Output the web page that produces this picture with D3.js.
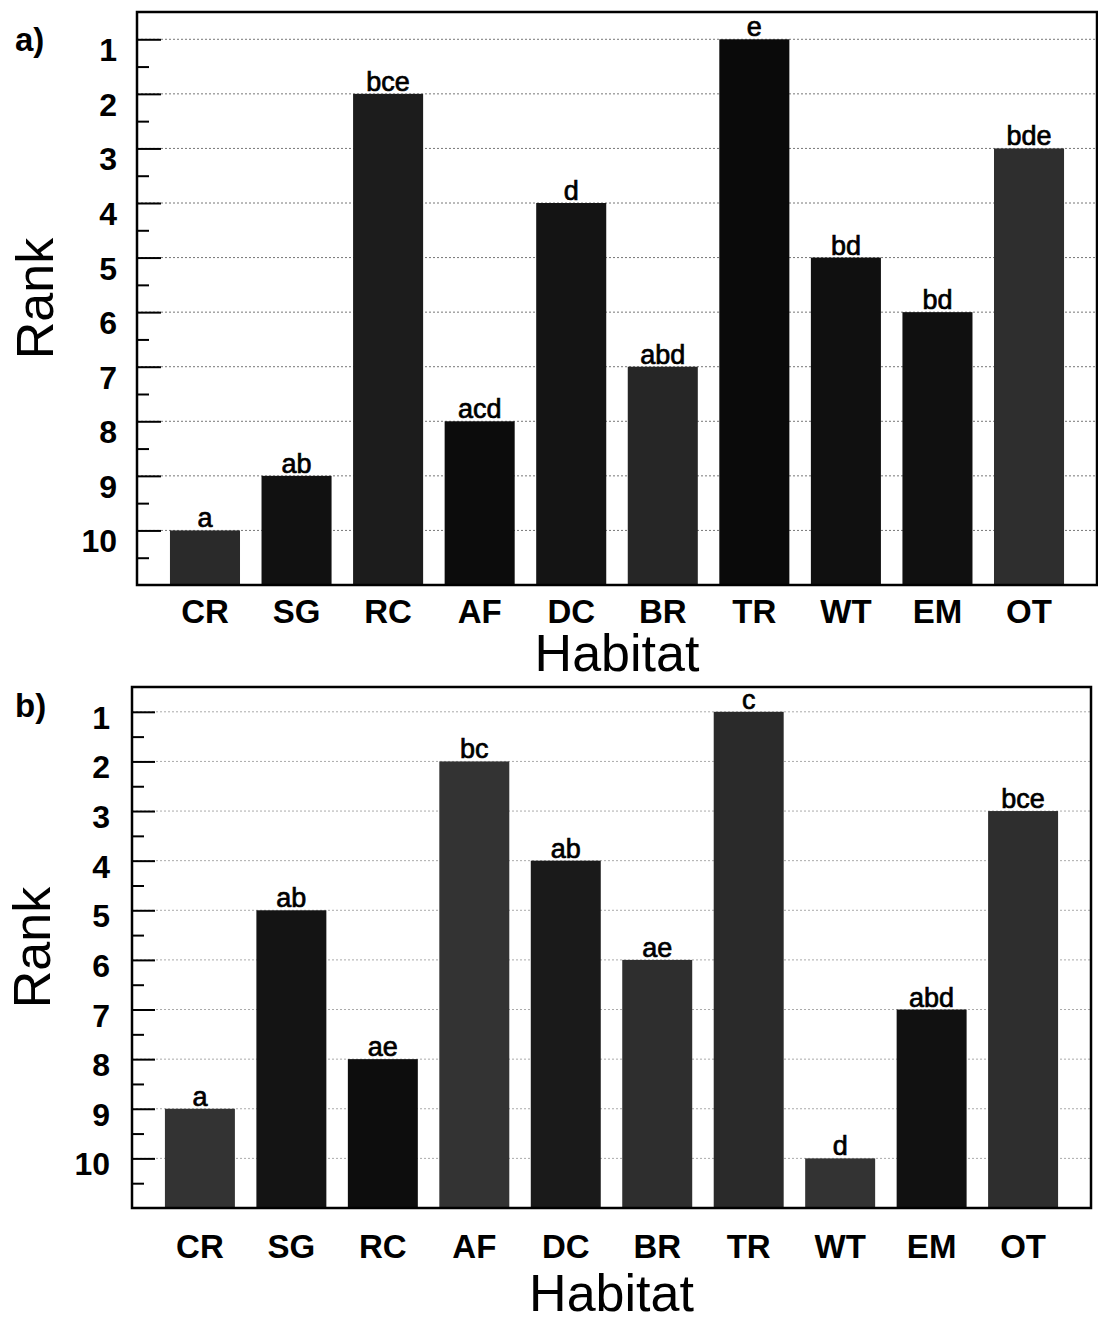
<!DOCTYPE html>
<html>
<head>
<meta charset="utf-8">
<script src="https://cdn.jsdelivr.net/npm/d3@7"></script>
<style>
  html, body { margin: 0; padding: 0; background: #fff; }
  svg { display: block; }
  text { font-family: "Liberation Sans", Arial, Helvetica, sans-serif; fill: #000; }
</style>
</head>
<body>
<svg id="chart" width="1098" height="1324"></svg>
<script>
// ---- data ----
const habitats = ["CR", "SG", "RC", "AF", "DC", "BR", "TR", "WT", "EM", "OT"];
const rankTicks = [1, 2, 3, 4, 5, 6, 7, 8, 9, 10];
const rankA = [10, 9, 2, 8, 4, 7, 1, 5, 6, 3];
const lettersA = ["a", "ab", "bce", "acd", "d", "abd", "e", "bd", "bd", "bde"];
const rankB = [9, 5, 8, 2, 4, 6, 1, 10, 7, 3];
const lettersB = ["a", "ab", "ae", "bc", "ab", "ae", "c", "d", "abd", "bce"];

// ---- styles (bar tones imitating the halftone print) ----
const toneA = ["#2a2a2a", "#111", "#1c1c1c", "#0c0c0c", "#141414", "#262626", "#0a0a0a", "#101010", "#101010", "#2e2e2e"];
const toneB = ["#333", "#141414", "#0d0d0d", "#333", "#1a1a1a", "#2e2e2e", "#2a2a2a", "#333", "#111", "#2e2e2e"];

const svg = d3.select("#chart");

function drawPanel(p) {
  const g = svg.append("g");
  const x = d3.scaleBand().domain(habitats).range([p.left, p.right])
    .paddingInner(0.235).paddingOuter(0.36);
  const y = d3.scaleLinear().domain([0.5, 11]).range([p.top, p.bottom]);

  // grid lines
  g.append("g").selectAll("line").data(rankTicks).join("line")
    .attr("x1", p.left).attr("x2", p.right)
    .attr("y1", d => y(d)).attr("y2", d => y(d))
    .attr("stroke", p.gridColor).attr("stroke-width", 1)
    .attr("stroke-dasharray", "2,2");

  // bars
  g.append("g").selectAll("rect").data(habitats).join("rect")
    .attr("x", d => x(d))
    .attr("width", x.bandwidth())
    .attr("y", (d, i) => y(p.ranks[i]))
    .attr("height", (d, i) => y(11) - y(p.ranks[i]))
    .attr("fill", (d, i) => p.tones[i]);

  // letters above bars
  g.append("g").selectAll("text").data(habitats).join("text")
    .attr("x", d => x(d) + x.bandwidth() / 2)
    .attr("y", (d, i) => y(p.ranks[i]) - 3)
    .attr("text-anchor", "middle")
    .attr("font-size", 27)
    .attr("stroke", "#000").attr("stroke-width", 0.7)
    .text((d, i) => p.letters[i]);

  // left axis ticks (major + minor)
  const minor = d3.range(1.5, 11, 1);
  const yAxisMajor = d3.axisRight(y).tickValues(rankTicks).tickSize(p.majorLen).tickFormat("");
  const yAxisMinor = d3.axisRight(y).tickValues(minor).tickSize(12).tickFormat("");
  [yAxisMajor, yAxisMinor].forEach(ax => {
    const a = g.append("g").attr("transform", `translate(${p.left},0)`).call(ax);
    a.select(".domain").remove();
    a.selectAll(".tick line").attr("stroke", "#000").attr("stroke-width", 2);
  });

  // y tick labels
  g.append("g").selectAll("text").data(rankTicks).join("text")
    .attr("x", p.left - p.labelGap)
    .attr("y", d => y(d) + p.labelDy)
    .attr("text-anchor", "end")
    .attr("font-size", 32).attr("font-weight", "bold")
    .text(d => d);

  // x axis labels
  const xAxis = d3.axisBottom(x).tickSize(0).tickPadding(0);
  const xa = g.append("g").attr("transform", `translate(0,${p.bottom})`).call(xAxis);
  xa.select(".domain").remove();
  xa.selectAll(".tick text")
    .attr("y", p.xLabelBase - p.bottom).attr("dy", 0)
    .attr("font-size", 33).attr("font-weight", "bold")
    .attr("font-family", "'Liberation Sans', Arial, sans-serif")
    .attr("fill", "#000");

  // frame
  g.append("rect")
    .attr("x", p.left).attr("y", p.top)
    .attr("width", p.right - p.left).attr("height", p.bottom - p.top)
    .attr("fill", "none").attr("stroke", "#000").attr("stroke-width", 2.5);

  // axis titles
  g.append("text")
    .attr("x", (p.left + p.right) / 2).attr("y", p.titleBase)
    .attr("text-anchor", "middle").attr("font-size", 52)
    .text("Habitat");
  g.append("text")
    .attr("transform", `translate(${p.rankX},${(p.top + p.bottom) / 2}) rotate(-90)`)
    .attr("text-anchor", "middle").attr("font-size", 52)
    .text("Rank");

  // panel tag
  g.append("text")
    .attr("x", 15).attr("y", p.tagBase)
    .attr("font-size", 33).attr("font-weight", "bold")
    .text(p.tag);
}

drawPanel({
  left: 137, right: 1097, top: 12, bottom: 585,
  ranks: rankA, letters: lettersA, tones: toneA,
  gridColor: "#777", majorLen: 24, labelGap: 20, labelDy: 22,
  xLabelBase: 623, titleBase: 671, rankX: 53, tagBase: 51, tag: "a)"
});

drawPanel({
  left: 132, right: 1091, top: 687, bottom: 1208,
  ranks: rankB, letters: lettersB, tones: toneB,
  gridColor: "#aaa", majorLen: 23, labelGap: 22, labelDy: 17,
  xLabelBase: 1258, titleBase: 1311, rankX: 50, tagBase: 717, tag: "b)"
});
</script>
</body>
</html>
